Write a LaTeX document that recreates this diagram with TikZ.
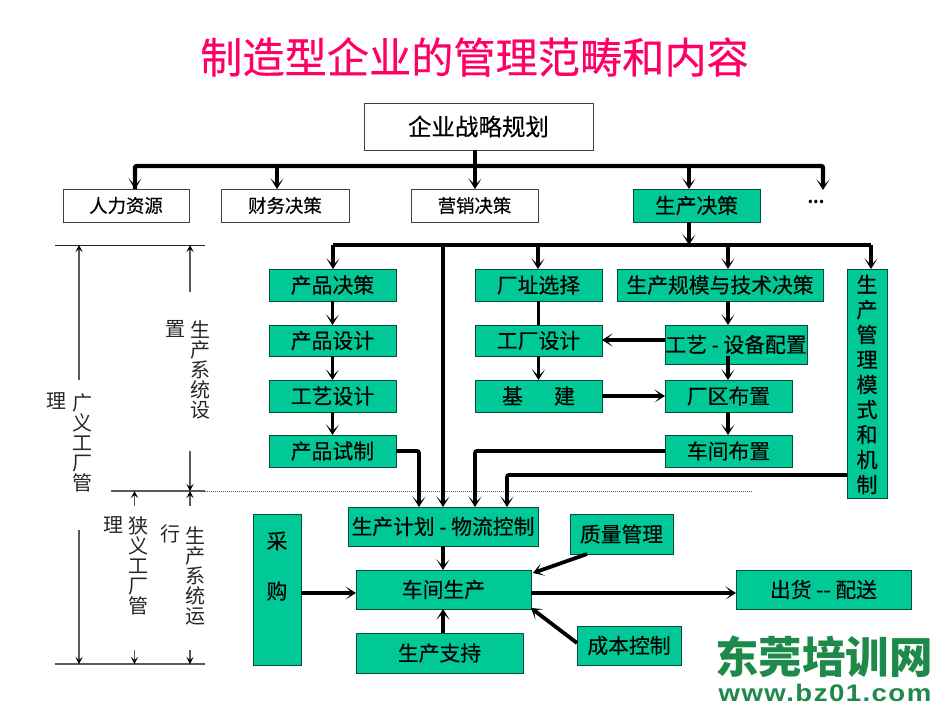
\documentclass[tikz,border=0pt]{standalone}
\usepackage{fontspec}
\setmainfont{Noto Sans CJK SC}
\newfontfamily\boxfont[FakeBold=0.35]{Noto Sans CJK SC}
\newfontfamily\latinbold[LetterSpace=6,FakeStretch=1.15]{Liberation Sans Bold}
\usetikzlibrary{arrows.meta,calc}
\definecolor{boxgreen}{HTML}{00C896}
\definecolor{logogreen}{HTML}{1E8A4A}
\definecolor{titlepink}{HTML}{FF0066}
\definecolor{rulegray}{HTML}{5A5A5A}
\newcommand\placebox[7][]{\node[plain,#1,minimum width={(#4-#2)*1pt},minimum height={(#5-#3)*1pt}] (#6) at ({(#2+#4)/2},{(#3+#5)/2}) {\raisebox{-1pt}{#7}};}
\tikzset{
  plain/.style={draw=black!75,line width=0.8pt,inner sep=0pt,outer sep=0pt,font=\boxfont\fontsize{20.8}{22}\selectfont,fill=white},
  grn/.style={fill=boxgreen,draw=black!60!boxgreen},
  small/.style={font=\boxfont\fontsize{18.4}{20}\selectfont},
  bar/.style={line width=3.8pt,draw=black,rounded corners=2pt},
  arr/.style={-{Stealth[length=10.5pt,width=13pt,inset=6.5pt]}},
  thin rule/.style={line width=1.6pt,draw=rulegray},
  dim/.style={line width=1.5pt,draw=rulegray,-{Stealth[length=7pt,width=7pt,inset=3pt,color=black]}},
  vtext/.style={inner sep=0pt,align=center,font=\fontsize{20}{20}\selectfont,text=black!85},
  vchar/.style={inner sep=0pt,font=\fontsize{20}{20}\selectfont,text=black!85}
}
\begin{document}
\begin{tikzpicture}[x=1pt,y=-1pt]
\useasboundingbox (0,0) rectangle (950,713);
\node[inner sep=0pt,text=titlepink,font=\boxfont\fontsize{42.2}{44}\selectfont] (title) at (474.5,57) {制造型企业的管理范畴和内容};
% rules
\coordinate (t1) at (55,245); \coordinate (t2) at (205,245);
\coordinate (m1) at (111,491); \coordinate (m2) at (205,491); \coordinate (m3) at (752,491);
\coordinate (b1) at (55,664); \coordinate (b2) at (205,664);
\draw[thin rule,draw=black!85,line width=1pt] (t1) -- (t2);
\draw[thin rule] (m1) -- (m2);
\draw[densely dotted,line width=1pt,draw=rulegray] (m2) -- (m3);
\draw[thin rule,line width=2.2pt] (b1) -- (b2);
% top tier
\placebox{364}{103}{593}{150}{top}{\fontsize{23.5}{25}\selectfont 企业战略规划}
\placebox[small]{63}{189}{189}{222}{r1}{人力资源}
\placebox[small]{221}{189}{349}{222}{r2}{财务决策}
\placebox[small]{411}{189}{538}{222}{r3}{营销决策}
\placebox[grn]{633}{189}{760}{222}{r4}{生产决策}
\node[inner sep=0pt,font=\bfseries\fontsize{16}{16}\selectfont] (more) at (816,202) {...};
% second tier
\placebox[grn]{269}{269}{396}{301}{p1}{产品决策}
\placebox[grn]{269}{325}{396}{356}{p2}{产品设计}
\placebox[grn]{269}{380}{396}{412}{p3}{工艺设计}
\placebox[grn]{269}{435}{396}{467}{p4}{产品试制}
\placebox[grn]{475}{269}{602}{301}{f1}{厂址选择}
\placebox[grn]{475}{325}{602}{356}{f2}{工厂设计}
\placebox[grn]{475}{380}{602}{412}{f3}{基\hspace{1.5em}建}
\placebox[grn]{617}{269}{823}{301}{g1}{生产规模与技术决策}
\placebox[grn]{665}{325}{807}{364}{g2}{工艺 - 设备配置}
\placebox[grn]{665}{380}{792}{412}{g3}{厂区布置}
\placebox[grn]{665}{435}{792}{467}{g4}{车间布置}
\placebox[grn]{847}{269}{887}{498}{mode}{}
\node[inner sep=0pt,align=center,font=\boxfont\fontsize{21}{25}\selectfont] (modetext) at (867,384.5) {生\\产\\管\\理\\模\\式\\和\\机\\制};
% lower tier
\placebox[grn]{348}{507}{538}{546}{plan}{生产计划 - 物流控制}
\placebox[grn]{356}{570}{531}{609}{shop}{车间生产}
\placebox[grn]{356}{633}{523}{673}{supp}{生产支持}
\placebox[grn]{570}{514}{673}{554}{qual}{质量管理}
\placebox[grn]{577}{626}{681}{665}{cost}{成本控制}
\placebox[grn]{736}{570}{911}{609}{ship}{出货 -{}- 配送}
\placebox[grn]{253}{514}{301}{665}{buy}{}
\node[inner sep=0pt,font=\boxfont\fontsize{20.8}{22}\selectfont] (buy1) at (277,541) {采};
\node[inner sep=0pt,font=\boxfont\fontsize{20.8}{22}\selectfont] (buy2) at (277,591) {购};
% upper bus
\coordinate (busa) at (475,166);
\coordinate (d1) at (135,166); \coordinate (d2) at (277,166); \coordinate (d4) at (689,166); \coordinate (d5) at (823,166);
\coordinate (moreend) at (823,190);
\draw[bar,line width=4.6pt,arr] (top.south -| busa) -- (r3.north -| busa);
\draw[bar,arr,line width=4.4pt] (r1.north -| d1) -- (d1) -- (d5) -- (moreend);
\draw[bar,arr] (d2) -- (r2.north -| d2);
\draw[bar,arr] (d4) -- (r4.north -| d4);
\draw[bar,arr] (d1) -- (r1.north -| d1);
% production bus
\coordinate (e0) at (689,245); \coordinate (e1) at (333,245); \coordinate (e2) at (443,245); \coordinate (e3) at (538,245); \coordinate (e4) at (728,245); \coordinate (e5) at (871,245);
\draw[bar] (e1) -- (e5);
\draw[bar,arr] (r4.south -| e0) -- (e0);
\draw[bar,arr] (e1) -- (p1.north -| e1);
\draw[bar,arr] (e2) -- (plan.north -| e2);
\draw[bar,arr] (e3) -- (f1.north -| e3);
\draw[bar,arr] (e4) -- (g1.north -| e4);
\draw[bar,arr] (e5) -- (mode.north -| e5);
% columns
\draw[bar,arr] (p1.south) -- (p2.north);
\draw[bar,arr] (p2.south) -- (p3.north);
\draw[bar,arr] (p3.south) -- (p4.north);
\draw[bar] (f1.south) -- (f2.north);
\draw[bar,arr] (f2.south) -- (f3.north);
\coordinate (gx) at (728,300);
\draw[bar,arr] (g1.south -| gx) -- (g2.north -| gx);
\draw[bar,arr] ($(g2.south -| gx)+(0,-8)$) -- (g3.north -| gx);
\draw[bar,arr] (g3.south -| gx) -- (g4.north -| gx);
\coordinate (gy) at (700,340);
\draw[bar,arr] (g2.west |- gy) -- (f2.east |- gy);
\draw[bar,arr] (f3.east) -- (g3.west);
% into plan
\coordinate (i1) at (419,451); \coordinate (i3) at (475,451); \coordinate (i4) at (507,475);
\draw[bar,arr] (p4.east |- i1) -- (i1) -- (plan.north -| i1);
\draw[bar,arr] (g4.west |- i3) -- (i3) -- (plan.north -| i3);
\draw[bar,arr] (mode.west |- i4) -- (i4) -- (plan.north -| i4);
% lower connectors
\coordinate (hx) at (443,560); \coordinate (hy) at (300,593);
\coordinate (qa) at (587,554); \coordinate (qb) at (533,573);
\coordinate (ca) at (577,643); \coordinate (cb) at (531,608);
\draw[bar,arr] (plan.south -| hx) -- (shop.north -| hx);
\draw[bar,arr] (supp.north -| hx) -- (shop.south -| hx);
\draw[bar,arr] (buy.east |- hy) -- (shop.west |- hy);
\draw[bar,arr] (shop.east |- hy) -- (ship.west |- hy);
\draw[bar,arr] (qa) -- (qb);
\draw[bar,arr] (ca) -- (cb);
% dimensions
\coordinate (xa) at (79,380); \coordinate (xb) at (79,530);
\coordinate (ya) at (190,292); \coordinate (yb) at (190,451); \coordinate (yc) at (190,506); \coordinate (yd) at (190,650);
\coordinate (za) at (134.5,506); \coordinate (zb) at (134.5,650);
\draw[dim] (xa) -- (xa |- t1);
\draw[dim] (xb) -- (xb |- b1);
\draw[dim] (ya) -- (ya |- t1);
\draw[dim] (yb) -- (yb |- m1);
\draw[dim] (yc) -- (yc |- m1);
\draw[dim] (yd) -- (yd |- b1);
\draw[dim,line width=1pt] (za) -- (za |- m1);
\draw[dim,line width=1pt] (zb) -- (zb |- b1);
% side texts
\node[vtext] (l1) at (82,443) {广\\义\\工\\厂\\管};
\node[vchar] (l1b) at (56,401) {理};
\node[vtext] (l2) at (200,370) {生\\产\\系\\统\\设};
\node[vchar] (l2b) at (175,329) {置};
\node[vtext] (l3) at (138,566) {狭\\义\\工\\厂\\管};
\node[vchar] (l3b) at (113,525) {理};
\node[vtext] (l4) at (195,576) {生\\产\\系\\统\\运};
\node[vchar] (l4b) at (170,534) {行};
% logo
\node[inner sep=0pt,text=logogreen,font=\bfseries\fontsize{43.5}{45}\selectfont] (logo) at (824,657) {东莞培训网};
\node[inner sep=0pt,text=logogreen,font=\latinbold\fontsize{24}{26}\selectfont] (url) at (825,693) {www.bz01.com};
\end{tikzpicture}
\end{document}
